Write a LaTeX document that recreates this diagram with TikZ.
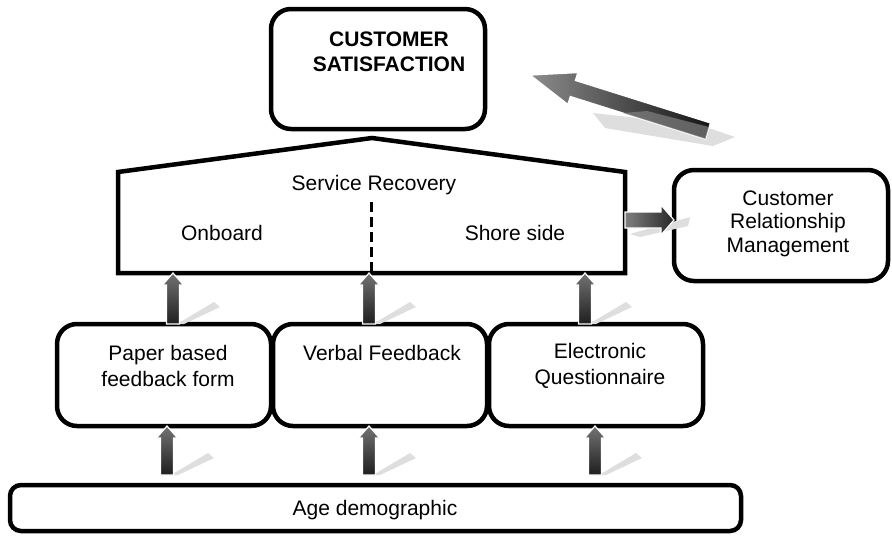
\documentclass[tikz,border=0pt]{standalone}
\usepackage{fontspec}
\setmainfont{Liberation Sans}
\usetikzlibrary{calc}

\tikzset{
  box/.style={draw, line width=4.5pt, rounded corners=20pt, inner sep=0pt, outer sep=0pt},
  txt/.style={font=\fontsize{21}{25.5}\selectfont, align=center, inner sep=0pt},
  arrowbody/.style={draw=white, line width=1.2pt, top color=black!55, bottom color=black!88},
  sidebody/.style={draw=white, line width=1.2pt, left color=black!50, right color=black!85},
  bigbody/.style={draw=white, line width=1.4pt, left color=black!45, right color=black!92},
  ghost/.style={fill=black!13},
}

% Block arrow pointing up: #1 = x position, #2 = lower node, #3 = upper node,
% #4 = gap left between the lower node and the arrow foot
\newcommand\riseblock[4]{%
  \fill[ghost] let \p1=(#2.north) in
    (#1pt+4pt,\y1+#4pt) -- (#1pt+41pt,\y1+#4pt+22pt) -- (#1pt+47pt,\y1+#4pt+17pt)
    -- (#1pt+11pt,\y1+#4pt) -- cycle;
  \path[arrowbody] let \p1=(#2.north), \p2=(#3.south) in
    (#1pt-6.5pt,\y1+#4pt) -- (#1pt+6.5pt,\y1+#4pt) -- (#1pt+6.5pt,\y2-12pt)
    -- (#1pt+10.5pt,\y2-12pt) -- (#1pt,\y2) -- (#1pt-10.5pt,\y2-12pt)
    -- (#1pt-6.5pt,\y2-12pt) -- cycle;
}

\begin{document}
\begin{tikzpicture}[x=1pt,y=-1pt]
\useasboundingbox (0,0) rectangle (892,536);

% top goal
\node[box, minimum width=214pt, minimum height=120pt] (cs) at (378,69) {};
\node[txt, font=\fontsize{21}{25.5}\selectfont\bfseries] (cstxt) at (389,52) {CUSTOMER\\SATISFACTION};

% service recovery house
\node[inner sep=0pt, outer sep=0pt, minimum width=507pt, minimum height=101pt] (sr) at (371.5,222.5) {};
\coordinate (roof) at (372,138);
\draw[line width=4.5pt, line join=miter]
  (sr.south west) -- (sr.north west) -- (roof) -- (sr.north east) -- (sr.south east) -- cycle;
\coordinate (divtop) at (371.5,202);
\draw[line width=2.8pt, dash pattern=on 10pt off 5pt] (divtop) -- (sr.south);
\node[txt] (srtxt) at (374,185) {Service Recovery};
\node[txt] (onb) at (222,233) {Onboard};
\node[txt] (shore) at (515,233) {Shore side};

% customer relationship management
\node[box, minimum width=214pt, minimum height=111pt] (crm) at (781,225.5) {};
\node[txt, font=\fontsize{21}{23.5}\selectfont] (crmtxt) at (788,223.5) {Customer\\Relationship\\Management};

% feedback channels
\node[box, minimum width=214pt, minimum height=102pt] (pb) at (164,375) {};
\node[box, minimum width=214pt, minimum height=102pt] (vf) at (380,375) {};
\node[box, minimum width=214pt, minimum height=102pt] (eq) at (596,375) {};
\node[txt] (pbtxt) at (168,366) {Paper based\\feedback form};
\node[txt] (vftxt) at (382,353) {Verbal Feedback};
\node[txt] (eqtxt) at (600,366) {Electronic\\Questionnaire};

% base
\node[box, rounded corners=11pt, minimum width=731pt, minimum height=46pt] (age) at (375.5,508) {};
\node[txt] (agetxt) at (375,510) {Age demographic};

% upward block arrows
\riseblock{167}{age}{pb}{10}
\riseblock{369}{age}{vf}{10}
\riseblock{595}{age}{eq}{10}
\riseblock{173}{pb}{sr}{0}
\riseblock{369}{vf}{sr}{0}
\riseblock{585}{eq}{sr}{0}

% arrow towards CRM
\fill[ghost] (630,234) -- (690,217) -- (688,226) -- (640,237) -- cycle;
\path[sidebody] let \p1=(sr.east), \p2=(crm.west) in
  (\x1,-212pt) -- (\x2-13pt,-212pt) -- (\x2-13pt,-205pt) -- (\x2,-220pt)
  -- (\x2-13pt,-235pt) -- (\x2-13pt,-228pt) -- (\x1,-228pt) -- cycle;

% large diagonal arrow towards satisfaction
\coordinate (bigtip) at (530,75);
\coordinate (bigtail) at (708,131);
\coordinate (bighead) at ($(bigtip)!45pt!(bigtail)$);
\fill[ghost] (593,113) -- (700,125) -- (735,137) -- (713,146) -- (605,128) -- cycle;
\path[bigbody]
  (bigtip) -- ($(bighead)!16.8pt!90:(bigtail)$) -- ($(bighead)!8.5pt!90:(bigtail)$)
  -- ($(bigtail)!8.5pt!-90:(bighead)$) -- ($(bigtail)!8.5pt!90:(bighead)$)
  -- ($(bighead)!8.5pt!-90:(bigtail)$) -- ($(bighead)!16.8pt!-90:(bigtail)$) -- cycle;
\fill[black!50, opacity=0.7] (623,113) -- (647,111) -- (709,127) -- (705.5,139) -- cycle;

\end{tikzpicture}
\end{document}
